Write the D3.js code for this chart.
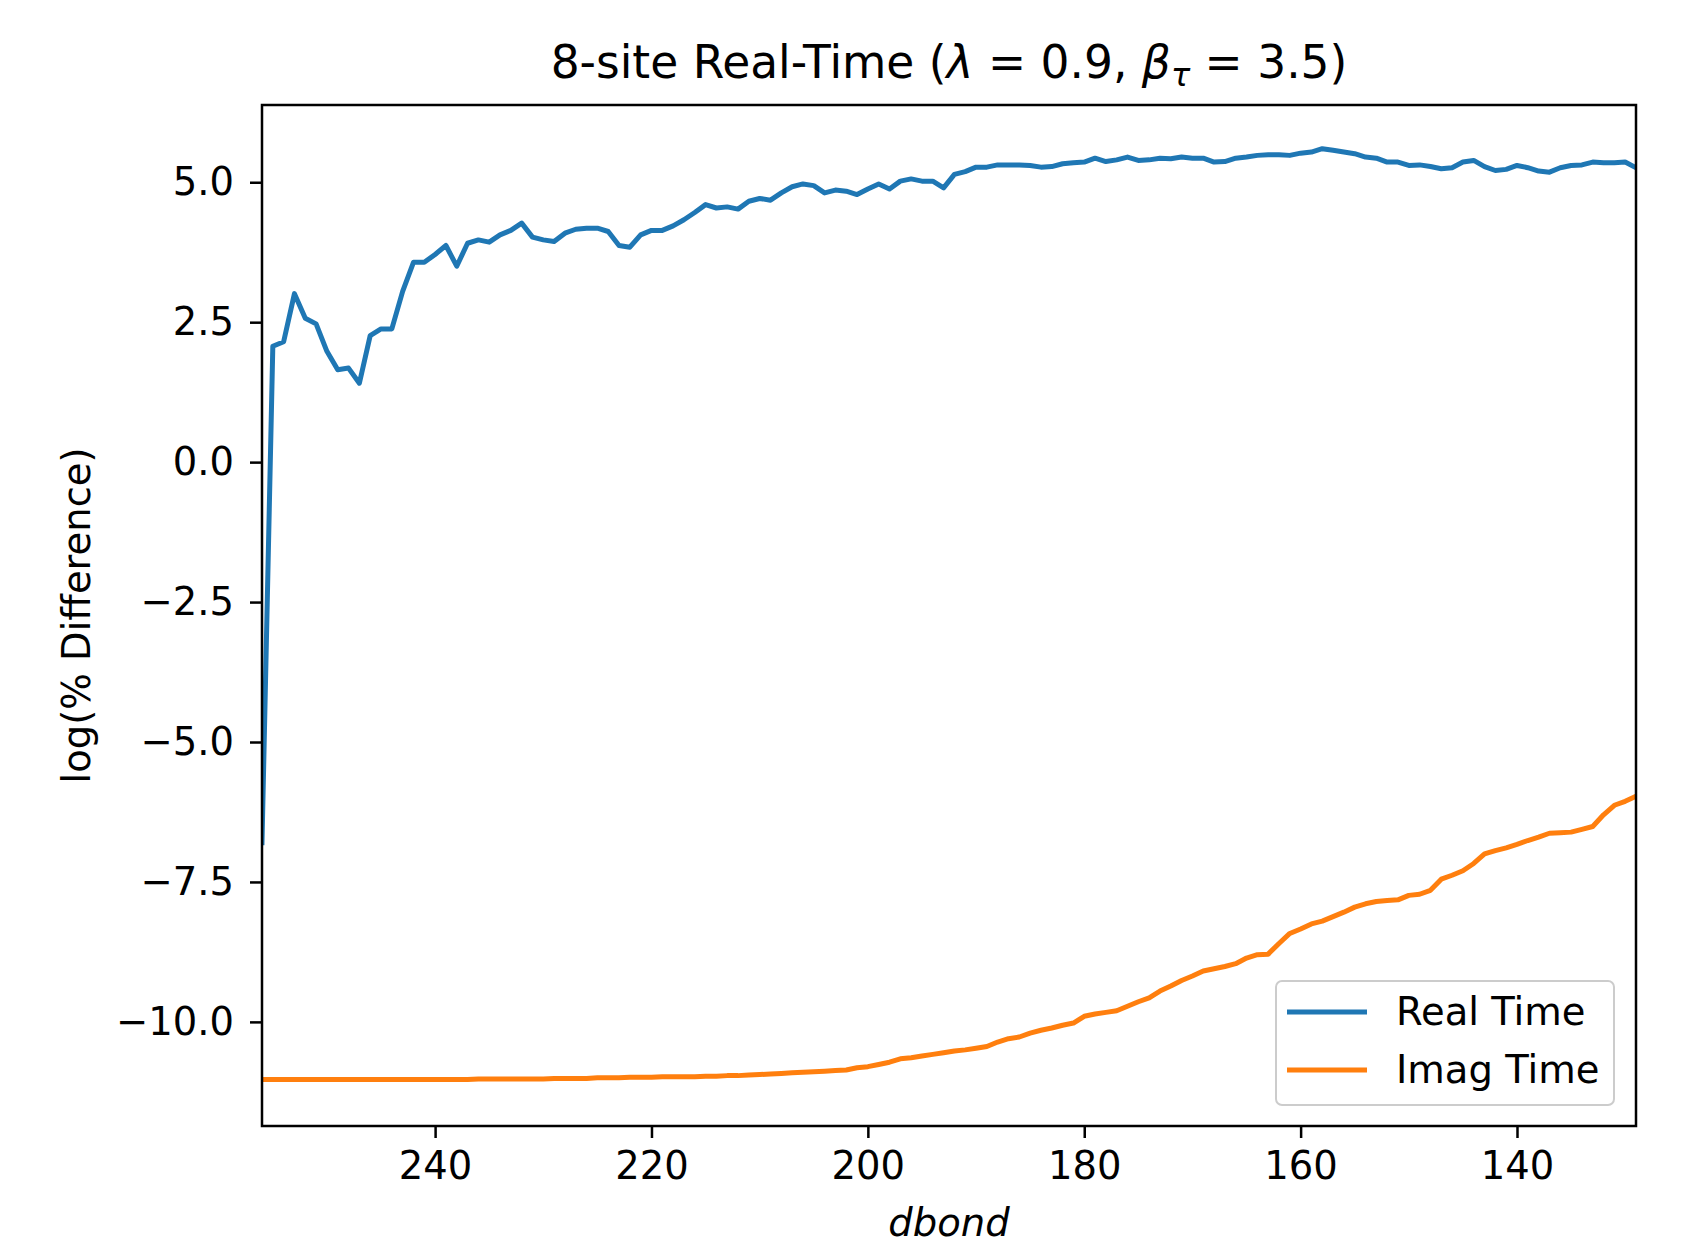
<!DOCTYPE html>
<html lang="en">
<head>
    <meta charset="UTF-8">
    <title>8-site real time</title>
    <script src="https://cdnjs.cloudflare.com/ajax/libs/d3/7.8.5/d3.min.js"></script>
    <style>
        * {
            margin: 0;
            padding: 0;
        }

        body {
            background: #fff;
        }

        svg text {
            font-family: "DejaVu Sans", sans-serif;
            fill: #000;
        }

        .tick line {
            stroke: #000;
            stroke-width: 2.5;
        }
    </style>
</head>
<body>
    <div id="chart"></div>
    <script>
        // dbond steps (256 down to 129)
        var dbond = [256, 255, 254, 253, 252, 251, 250, 249, 248, 247,
            246, 245, 244, 243, 242, 241, 240, 239, 238, 237,
            236, 235, 234, 233, 232, 231, 230, 229, 228, 227,
            226, 225, 224, 223, 222, 221, 220, 219, 218, 217,
            216, 215, 214, 213, 212, 211, 210, 209, 208, 207,
            206, 205, 204, 203, 202, 201, 200, 199, 198, 197,
            196, 195, 194, 193, 192, 191, 190, 189, 188, 187,
            186, 185, 184, 183, 182, 181, 180, 179, 178, 177,
            176, 175, 174, 173, 172, 171, 170, 169, 168, 167,
            166, 165, 164, 163, 162, 161, 160, 159, 158, 157,
            156, 155, 154, 153, 152, 151, 150, 149, 148, 147,
            146, 145, 144, 143, 142, 141, 140, 139, 138, 137,
            136, 135, 134, 133, 132, 131, 130, 129];

        var realTime = [-6.8, 2.07, 2.15, 3.01, 2.57, 2.47, 1.98, 1.65, 1.68, 1.41,
            2.26, 2.38, 2.38, 3.05, 3.57, 3.57, 3.71, 3.87, 3.50, 3.91,
            3.97, 3.93, 4.06, 4.14, 4.27, 4.02, 3.97, 3.94, 4.09, 4.16,
            4.18, 4.18, 4.12, 3.87, 3.84, 4.06, 4.14, 4.14, 4.22, 4.33,
            4.46, 4.60, 4.54, 4.56, 4.52, 4.66, 4.71, 4.68, 4.81, 4.92,
            4.97, 4.94, 4.81, 4.86, 4.84, 4.78, 4.88, 4.97, 4.88, 5.02,
            5.06, 5.02, 5.02, 4.90, 5.14, 5.19, 5.27, 5.27, 5.31, 5.31,
            5.31, 5.30, 5.27, 5.28, 5.33, 5.35, 5.36, 5.43, 5.37, 5.40,
            5.45, 5.39, 5.40, 5.43, 5.42, 5.45, 5.43, 5.43, 5.36, 5.37,
            5.43, 5.45, 5.48, 5.49, 5.49, 5.48, 5.52, 5.54, 5.60, 5.57,
            5.54, 5.51, 5.45, 5.43, 5.36, 5.36, 5.30, 5.31, 5.28, 5.24,
            5.26, 5.36, 5.39, 5.28, 5.21, 5.23, 5.30, 5.26, 5.20, 5.18,
            5.26, 5.30, 5.31, 5.36, 5.35, 5.35, 5.36, 5.26];

        var imagTime = [-11.03, -11.03, -11.03, -11.03, -11.03, -11.03, -11.03, -11.03, -11.03, -11.03,
            -11.03, -11.03, -11.03, -11.03, -11.03, -11.03, -11.03, -11.03, -11.03, -11.03,
            -11.02, -11.02, -11.02, -11.02, -11.02, -11.02, -11.02, -11.01, -11.01, -11.01,
            -11.01, -11.00, -11.00, -11.00, -10.99, -10.99, -10.99, -10.98, -10.98, -10.98,
            -10.98, -10.97, -10.97, -10.96, -10.96, -10.95, -10.94, -10.93, -10.92, -10.91,
            -10.90, -10.89, -10.88, -10.87, -10.86, -10.82, -10.80, -10.76, -10.72, -10.66,
            -10.64, -10.61, -10.58, -10.55, -10.52, -10.50, -10.47, -10.44, -10.36, -10.30,
            -10.27, -10.20, -10.15, -10.11, -10.06, -10.02, -9.90, -9.86, -9.83, -9.80,
            -9.72, -9.64, -9.57, -9.45, -9.36, -9.26, -9.18, -9.09, -9.05, -9.01,
            -8.96, -8.86, -8.80, -8.79, -8.60, -8.42, -8.34, -8.25, -8.20, -8.12,
            -8.04, -7.95, -7.89, -7.85, -7.83, -7.82, -7.74, -7.72, -7.65, -7.45,
            -7.38, -7.30, -7.17, -7.00, -6.94, -6.89, -6.83, -6.76, -6.70, -6.63,
            -6.62, -6.61, -6.56, -6.51, -6.30, -6.13, -6.06, -5.97];

        var xTicks = [240, 220, 200, 180, 160, 140];
        var yTicks = [5, 2.5, 0, -2.5, -5, -7.5, -10];
        var seriesNames = ["Real Time", "Imag Time"];
        var seriesColors = ["#1f77b4", "#ff7f0e"];

        var width = 1684,
            height = 1249,
            plotLeft = 262,
            plotRight = 1636,
            plotTop = 105,
            plotBottom = 1126,
            fontSize = "38.5px";

        var svg = d3.select("#chart").append("svg")
            .attr("width", width)
            .attr("height", height);

        var xScale = d3.scaleLinear()
            .domain([256, 129])
            .range([plotLeft, plotRight]);

        var yScale = d3.scaleLinear()
            .domain([-11.86, 6.38])
            .range([plotBottom, plotTop]);

        svg.append("clipPath").attr("id", "plot-clip")
            .append("rect")
            .attr("x", plotLeft)
            .attr("y", plotTop)
            .attr("width", plotRight - plotLeft)
            .attr("height", plotBottom - plotTop);

        // x axis
        var xAxis = d3.axisBottom(xScale)
            .tickValues(xTicks)
            .tickSize(12)
            .tickPadding(14)
            .tickFormat(d3.format("d"));
        var xg = svg.append("g")
            .attr("transform", "translate(0," + plotBottom + ")")
            .call(xAxis);
        xg.select(".domain").remove();
        xg.selectAll("text").style("font-size", fontSize);

        // y axis
        var minusFmt = function(d) {
            return d3.format(".1f")(d).replace("-", "\u2212");
        };
        var yAxis = d3.axisLeft(yScale)
            .tickValues(yTicks)
            .tickSize(12)
            .tickPadding(16)
            .tickFormat(minusFmt);
        var yg = svg.append("g")
            .attr("transform", "translate(" + plotLeft + ",0)")
            .call(yAxis);
        yg.select(".domain").remove();
        yg.selectAll("text").style("font-size", fontSize);

        // the lines
        var line = d3.line()
            .x(function(d) { return xScale(d[0]); })
            .y(function(d) { return yScale(d[1]); });

        [realTime, imagTime].forEach(function(vals, i) {
            svg.append("path")
                .datum(dbond.map(function(d, j) { return [d, vals[j]]; }))
                .attr("clip-path", "url(#plot-clip)")
                .attr("fill", "none")
                .attr("stroke", seriesColors[i])
                .attr("stroke-width", 5)
                .attr("stroke-linejoin", "round")
                .attr("stroke-linecap", "square")
                .attr("d", line);
        });

        // frame
        svg.append("rect")
            .attr("x", plotLeft)
            .attr("y", plotTop)
            .attr("width", plotRight - plotLeft)
            .attr("height", plotBottom - plotTop)
            .attr("fill", "none")
            .attr("stroke", "#000")
            .attr("stroke-width", 2.5);

        // title
        var title = svg.append("text")
            .attr("x", (plotLeft + plotRight) / 2)
            .attr("y", 78)
            .attr("text-anchor", "middle")
            .style("font-size", "45.5px");
        title.append("tspan").text("8-site Real-Time (");
        title.append("tspan").style("font-style", "italic").text("\u03bb");
        title.append("tspan").text(" = 0.9, ");
        title.append("tspan").style("font-style", "italic").text("\u03b2");
        title.append("tspan").style("font-style", "italic").style("font-size", "32px").attr("dy", 8).text("\u03c4");
        title.append("tspan").attr("dy", -8).text(" = 3.5)");

        // axis labels
        svg.append("text")
            .attr("x", (plotLeft + plotRight) / 2)
            .attr("y", 1236)
            .attr("text-anchor", "middle")
            .style("font-size", fontSize)
            .style("font-style", "italic")
            .text("dbond");

        svg.append("text")
            .attr("transform", "translate(90," + (plotTop + plotBottom) / 2 + ") rotate(-90)")
            .attr("text-anchor", "middle")
            .style("font-size", fontSize)
            .text("log(% Difference)");

        // legend
        var legend = svg.append("g");
        legend.append("rect")
            .attr("x", 1276)
            .attr("y", 981)
            .attr("width", 338)
            .attr("height", 124)
            .attr("rx", 6)
            .attr("fill", "#fff")
            .attr("fill-opacity", 0.8)
            .attr("stroke", "#cccccc")
            .attr("stroke-width", 2);

        seriesNames.forEach(function(name, i) {
            var ly = 1012 + i * 58;
            legend.append("line")
                .attr("x1", 1287)
                .attr("x2", 1367)
                .attr("y1", ly)
                .attr("y2", ly)
                .attr("stroke", seriesColors[i])
                .attr("stroke-width", 5);
            legend.append("text")
                .attr("x", 1396)
                .attr("y", ly)
                .attr("dy", "0.35em")
                .style("font-size", fontSize)
                .text(name);
        });
    </script>
</body>
</html>
